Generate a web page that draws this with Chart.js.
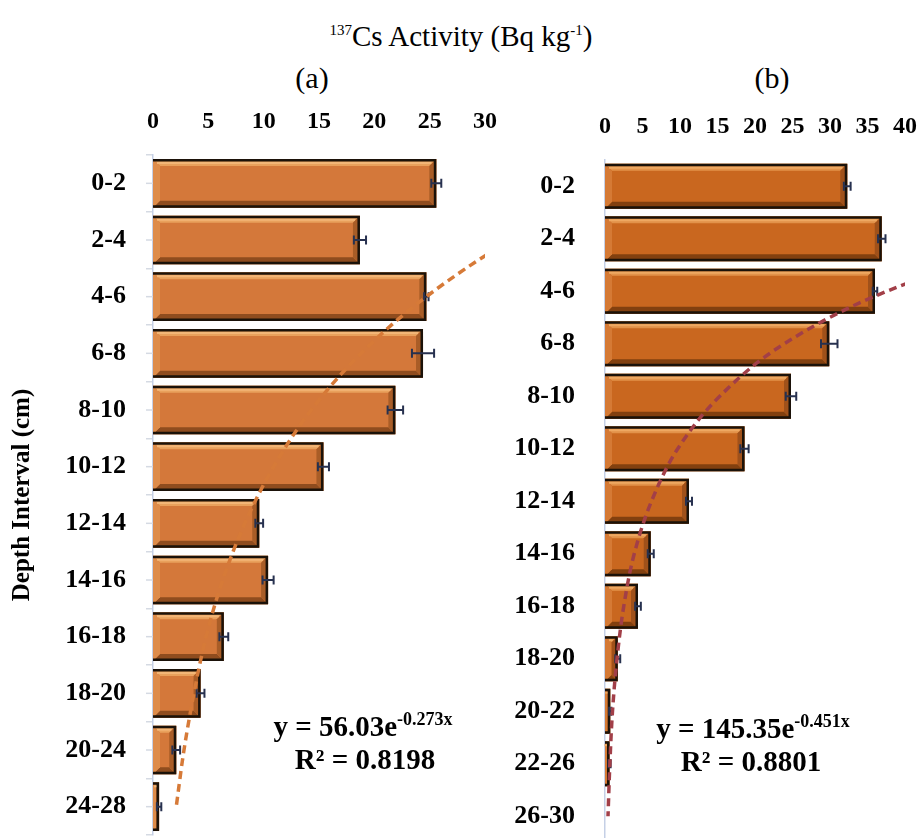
<!DOCTYPE html>
<html>
<head>
<meta charset="utf-8">
<script src="https://cdn.jsdelivr.net/npm/chart.js@4.4.1/dist/chart.umd.min.js"></script>
<style>
body {
    margin: 0;
    width: 922px;
    height: 838px;
    overflow: hidden;
    background: #fff;
    position: relative;
    font-family: 'Liberation Serif', 'Times New Roman', serif;
}
.txt {
    position: absolute;
    white-space: nowrap;
    transform: translate(-50%, -50%);
    color: #000;
    line-height: 1;
}
.txt sup { line-height: 0; }
#title { left: 461px; top: 36px; font-size: 29px; }
#title sup { font-size: 15px; }
.panel { top: 78px; font-size: 30px; }
.eq { font-weight: bold; font-size: 29px; }
.eq sup { font-size: 18px; }
canvas { position: absolute; }
#chart-a { left: 0; top: 100px; }
#chart-b { left: 470px; top: 100px; }
</style>
</head>
<body>
<div class="txt" id="title"><sup>137</sup>Cs Activity (Bq kg<sup>-1</sup>)</div>
<div class="txt panel" style="left:312px">(a)</div>
<div class="txt panel" style="left:772px">(b)</div>

<canvas id="chart-a" width="500" height="738"></canvas>
<canvas id="chart-b" width="452" height="745"></canvas>

<div class="txt eq" style="left:363px; top:726px">y = 56.03e<sup>-0.273x</sup></div>
<div class="txt eq" style="left:365px; top:759px">R² = 0.8198</div>
<div class="txt eq" style="left:753px; top:728px">y = 145.35e<sup>-0.451x</sup></div>
<div class="txt eq" style="left:751px; top:761px">R² = 0.8801</div>

<script>
// Panel (a) data
const depthsA = ['0-2', '2-4', '4-6', '6-8', '8-10', '10-12', '12-14', '14-16', '16-18', '18-20', '20-24', '24-28'];
const activityA = [25.6, 18.7, 24.7, 24.4, 21.9, 15.4, 9.6, 10.4, 6.4, 4.3, 2.1, 0.55];
const errorA = [0.45, 0.55, 0.2, 1.0, 0.7, 0.5, 0.35, 0.5, 0.4, 0.35, 0.35, 0.2];
const trendA = [42.7, 32.4, 24.7, 18.8, 14.3, 10.9, 8.3, 6.3, 4.8, 3.7, 2.8, 2.1];
const xTicksA = [0, 5, 10, 15, 20, 25, 30];

// Panel (b) data
const depthsB = ['0-2', '2-4', '4-6', '6-8', '8-10', '10-12', '12-14', '14-16', '16-18', '18-20', '20-22', '22-26', '26-30'];
const activityB = [32.3, 36.9, 36.0, 29.9, 24.8, 18.6, 11.2, 6.1, 4.4, 1.7, 0.7, 0.6, 0];
const errorB = [0.45, 0.5, 0.3, 1.1, 0.7, 0.55, 0.4, 0.4, 0.38, 0.33, 0.15, 0.15, 0];
const trendB = [92.6, 59.0, 37.6, 23.9, 15.3, 9.7, 6.2, 3.9, 2.5, 1.6, 1.0, 0.65, 0.4];
const xTicksB = [0, 5, 10, 15, 20, 25, 30, 35, 40];

const serif = "'Liberation Serif', 'Times New Roman', serif";

// Draws the bevelled look of the bars plus the error bars
const bevelBars = {
    id: 'bevelBars',
    afterDatasetDraw(chart, args) {
        const meta = args.meta;
        if (meta.type !== 'bar') return;
        const ds = chart.data.datasets[args.index];
        const ctx = chart.ctx;
        const xScale = chart.scales.x;
        const c = ds.bevel;

        const poly = (pts, color) => {
            ctx.beginPath();
            ctx.moveTo(pts[0][0], pts[0][1]);
            pts.slice(1).forEach(p => ctx.lineTo(p[0], p[1]));
            ctx.closePath();
            ctx.fillStyle = color;
            ctx.fill();
        };

        ctx.save();
        meta.data.forEach((bar, i) => {
            const p = bar.getProps(['x', 'y', 'base', 'height'], true);
            const l = p.base, r = p.x;
            const t = p.y - p.height / 2, b = p.y + p.height / 2;
            if (r - l < 0.5) return;
            const bw = Math.min(7, (r - l) / 2);

            poly([[l, t], [r, t], [r - bw, t + bw], [l + bw, t + bw]], c.top);
            poly([[l, b], [r, b], [r - bw, b - bw], [l + bw, b - bw]], c.bottom);
            poly([[r, t], [r, b], [r - bw, b - bw], [r - bw, t + bw]], c.right);
            poly([[l, t], [l, b], [l + bw, b - bw], [l + bw, t + bw]], c.left);

            // light streak on the top bevel
            ctx.strokeStyle = c.shine;
            ctx.lineWidth = 2;
            ctx.beginPath();
            ctx.moveTo(l + 4, t + 4);
            ctx.lineTo(r - 5, t + 4);
            ctx.stroke();

            // dark outline on top, right and bottom
            ctx.strokeStyle = c.border;
            ctx.lineWidth = 2.5;
            ctx.beginPath();
            ctx.moveTo(l, t + 1.25);
            ctx.lineTo(r - 1.25, t + 1.25);
            ctx.lineTo(r - 1.25, b - 1.25);
            ctx.lineTo(l, b - 1.25);
            ctx.stroke();
        });

        // error bars
        ctx.strokeStyle = '#27314f';
        ctx.lineWidth = 2;
        meta.data.forEach((bar, i) => {
            const e = ds.errorBars[i];
            if (!e) return;
            const v = ds.data[i];
            const y = bar.y;
            const x1 = xScale.getPixelForValue(v - e);
            const x2 = xScale.getPixelForValue(v + e);
            ctx.beginPath();
            ctx.moveTo(x1, y);
            ctx.lineTo(x2, y);
            ctx.moveTo(x1, y - 4.5);
            ctx.lineTo(x1, y + 4.5);
            ctx.moveTo(x2, y - 4.5);
            ctx.lineTo(x2, y + 4.5);
            ctx.stroke();
        });
        ctx.restore();
    }
};

// Short ticks at the category centres of panel (a)
const centreTicks = {
    id: 'centreTicks',
    afterDraw(chart) {
        const ys = chart.scales.y;
        const ctx = chart.ctx;
        ctx.save();
        ctx.strokeStyle = '#d5dae3';
        ctx.lineWidth = 1.5;
        ys.ticks.forEach((t, i) => {
            const y = ys.getPixelForValue(i);
            ctx.beginPath();
            ctx.moveTo(ys.right - 7, y);
            ctx.lineTo(ys.right, y);
            ctx.stroke();
        });
        ctx.restore();
    }
};

// keep label overhang from shrinking the plot area
function noOverhang(s) {
    s.paddingTop = 0;
    s.paddingBottom = 0;
    s.paddingLeft = 0;
    s.paddingRight = 0;
}

function makeChart(id, cfg) {
    return new Chart(document.getElementById(id), {
        type: 'bar',
        data: {
            labels: cfg.labels,
            datasets: [
                {
                    type: 'line',
                    indexAxis: 'y',
                    data: cfg.trend,
                    borderColor: cfg.trendColor,
                    borderWidth: 3.5,
                    borderDash: [8, 5],
                    pointRadius: 0,
                    cubicInterpolationMode: 'monotone',
                    fill: false,
                    order: 0
                },
                {
                    type: 'bar',
                    data: cfg.values,
                    errorBars: cfg.errors,
                    backgroundColor: cfg.barColor,
                    bevel: cfg.bevel,
                    borderWidth: 0,
                    barPercentage: 0.86,
                    categoryPercentage: 1,
                    order: 1
                }
            ]
        },
        options: {
            indexAxis: 'y',
            responsive: false,
            animation: false,
            layout: { padding: cfg.padding },
            plugins: {
                legend: { display: false },
                tooltip: { enabled: false }
            },
            scales: {
                x: {
                    type: 'linear',
                    position: 'top',
                    min: cfg.xTicks[0],
                    max: cfg.xTicks[cfg.xTicks.length - 1],
                    afterBuildTicks: s => { s.ticks = cfg.xTicks.map(v => ({ value: v })); },
                    afterFit: s => { s.height = cfg.xHeight; noOverhang(s); },
                    grid: { display: false, drawTicks: false },
                    border: { display: false },
                    ticks: {
                        color: '#000',
                        padding: 19,
                        maxRotation: 0,
                        autoSkip: false,
                        font: { family: serif, size: 24, weight: 'bold' }
                    }
                },
                y: {
                    type: 'category',
                    afterFit: s => { s.width = cfg.yWidth; noOverhang(s); },
                    grid: {
                        display: cfg.yGrid,
                        drawOnChartArea: false,
                        drawTicks: true,
                        tickLength: 7,
                        color: '#d5dae3',
                        lineWidth: 1.5
                    },
                    border: { display: true, color: '#c5d0e6', width: 1.5 },
                    ticks: {
                        color: '#000',
                        padding: cfg.yPad,
                        autoSkip: false,
                        font: { family: serif, size: 26, weight: 'bold' }
                    },
                    title: cfg.yTitle
                }
            }
        },
        plugins: cfg.plugins
    });
}

makeChart('chart-a', {
    labels: depthsA,
    values: activityA,
    errors: errorA,
    trend: trendA,
    xTicks: xTicksA,
    trendColor: '#d67a38',
    barColor: '#d4783a',
    bevel: { top: '#e9a15c', bottom: '#8f4c1e', right: '#a95d27', left: '#de8c4a', shine: '#f2b677', border: '#1b1209' },
    padding: { top: 0, right: 15, bottom: 3, left: 0 },
    xHeight: 55,
    yWidth: 153,
    yPad: 20,
    yGrid: true,
    yTitle: {
        display: true,
        text: 'Depth Interval (cm)',
        color: '#000',
        padding: { top: 8, bottom: 0 },
        font: { family: serif, size: 25, weight: 'bold' }
    },
    plugins: [bevelBars, centreTicks]
});

makeChart('chart-b', {
    labels: depthsB,
    values: activityB,
    errors: errorB,
    trend: trendB,
    xTicks: xTicksB,
    trendColor: '#a23f48',
    barColor: '#c9671f',
    bevel: { top: '#e2924a', bottom: '#82400f', right: '#a0511a', left: '#d57a35', shine: '#eea862', border: '#1b1209' },
    padding: { top: 0, right: 17, bottom: 2.5, left: 0 },
    xHeight: 60,
    yWidth: 135,
    yPad: 23,
    yGrid: false,
    yTitle: { display: false },
    plugins: [bevelBars]
});
</script>
</body>
</html>
